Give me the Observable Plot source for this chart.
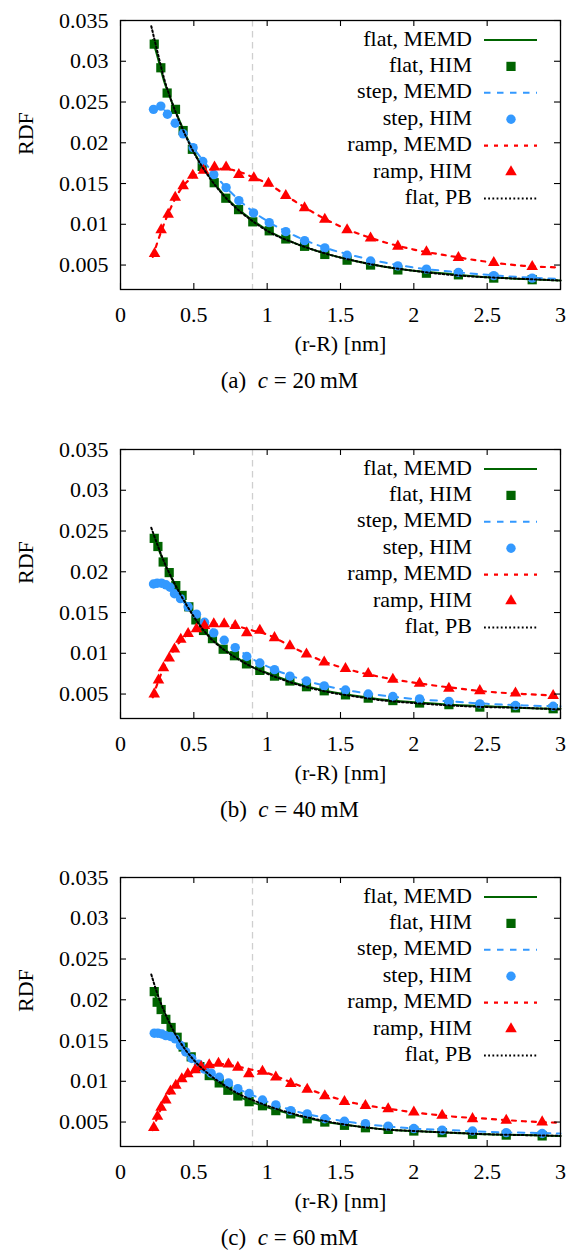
<!DOCTYPE html>
<html><head><meta charset="utf-8">
<script src="https://cdn.jsdelivr.net/npm/d3@7"></script>
<script src="https://cdn.jsdelivr.net/npm/@observablehq/plot@0.6"></script>
<style>
body{margin:0;background:#fff;width:579px;height:1252px;overflow:hidden;font-family:"Liberation Serif",serif;position:relative;}
.panel{position:absolute;left:0;width:579px;}
.cap{position:absolute;left:0;width:579px;text-align:center;font-size:23px;line-height:26px;color:#000;}
</style></head><body>
<script>
// ---- ticks & labels ----
const xTicks = [0, 0.5, 1, 1.5, 2, 2.5, 3];
const xTickLabels = ["0", "0.5", "1", "1.5", "2", "2.5", "3"];
const yTicks = [0.005, 0.01, 0.015, 0.02, 0.025, 0.03, 0.035];
const yTickLabels = ["0.005", "0.01", "0.015", "0.02", "0.025", "0.03", "0.035"];
const xLabel = "(r-R) [nm]";
const yLabel = "RDF";
const seriesNames = ["flat, MEMD", "flat, HIM", "step, MEMD", "step, HIM", "ramp, MEMD", "ramp, HIM", "flat, PB"];
const panelTags = ["(a)", "(b)", "(c)"];
const concentrations = ["20", "40", "60"];
const markerX = [0.9];

// shared x grids for the continuous curves
const memdX = [0.22, 0.25, 0.3, 0.35, 0.4, 0.5, 0.6, 0.7, 0.8, 0.9, 1.0, 1.2, 1.4, 1.6, 1.8, 2.0, 2.25, 2.5, 2.75, 3.0];
const pbX   = [0.21, 0.25, 0.3, 0.35, 0.4, 0.5, 0.6, 0.7, 0.8, 0.9, 1.0, 1.2, 1.4, 1.6, 1.8, 2.0, 2.25, 2.5, 2.75, 3.0];

// ---- panel (a) c = 20 mM ----
const aFlatHimX = [0.23, 0.275, 0.318, 0.375, 0.427, 0.49, 0.557, 0.639, 0.718, 0.805, 0.902, 1.014, 1.127, 1.255, 1.393, 1.545, 1.705, 1.891, 2.086, 2.304, 2.545, 2.807];
const aFlatHimY = [0.0321, 0.0292, 0.0261, 0.0241, 0.0215, 0.0192, 0.0171, 0.0151, 0.0132, 0.0118, 0.0103, 0.0092, 0.0082, 0.0073, 0.0063, 0.0056, 0.0050, 0.0044, 0.0040, 0.0038, 0.0034, 0.0032];
const aStepHimX = [0.225, 0.275, 0.32, 0.373, 0.427, 0.495, 0.561, 0.636, 0.72, 0.807, 0.907, 1.014, 1.127, 1.255, 1.393, 1.545, 1.705, 1.891, 2.086, 2.304, 2.545, 2.807];
const aStepHimY = [0.0241, 0.0245, 0.0235, 0.0224, 0.0211, 0.0194, 0.0177, 0.0161, 0.0145, 0.0129, 0.0114, 0.0102, 0.0091, 0.0080, 0.0071, 0.0062, 0.0055, 0.0049, 0.0045, 0.0041, 0.0037, 0.0034];
const aRampHimX = [0.232, 0.277, 0.325, 0.373, 0.427, 0.493, 0.566, 0.641, 0.72, 0.807, 0.909, 1.009, 1.127, 1.255, 1.393, 1.545, 1.705, 1.891, 2.086, 2.304, 2.545, 2.807];
const aRampHimY = [0.0064, 0.0093, 0.0112, 0.0133, 0.0147, 0.0160, 0.0166, 0.0170, 0.0170, 0.0161, 0.0157, 0.0150, 0.0135, 0.0120, 0.0106, 0.0093, 0.0083, 0.0073, 0.0066, 0.0059, 0.0053, 0.0048];
const aFlatMemd = [0.0326, 0.0307, 0.0274, 0.0250, 0.0228, 0.0189, 0.0160, 0.0137, 0.0119, 0.0105, 0.0093, 0.0076, 0.0064, 0.0055, 0.0048, 0.0043, 0.0039, 0.0035, 0.0033, 0.0031];
const aStepMemd = [0.0240, 0.0243, 0.0240, 0.0229, 0.0218, 0.0193, 0.0170, 0.0149, 0.0131, 0.0116, 0.0104, 0.0085, 0.0071, 0.0061, 0.0053, 0.0047, 0.0042, 0.0038, 0.0035, 0.0033];
const aRampMemd = [0.0060, 0.0077, 0.0102, 0.0123, 0.0140, 0.0159, 0.0167, 0.0168, 0.0165, 0.0158, 0.0150, 0.0127, 0.0106, 0.0090, 0.0078, 0.0069, 0.0061, 0.0054, 0.0049, 0.0047];
const aFlatPb   = [0.0343, 0.0313, 0.0277, 0.0250, 0.0227, 0.0188, 0.0159, 0.0136, 0.0118, 0.0104, 0.0092, 0.0076, 0.0064, 0.0055, 0.0048, 0.0043, 0.0038, 0.0035, 0.0033, 0.0031];

// ---- panel (b) c = 40 mM ----
const bFlatHimX = [0.23, 0.255, 0.291, 0.332, 0.377, 0.42, 0.466, 0.514, 0.566, 0.627, 0.7, 0.777, 0.859, 0.95, 1.05, 1.155, 1.268, 1.389, 1.534, 1.689, 1.857, 2.039, 2.239, 2.45, 2.693, 2.95];
const bFlatHimY = [0.0241, 0.0231, 0.0212, 0.0199, 0.0183, 0.0171, 0.0157, 0.0141, 0.0128, 0.0118, 0.0105, 0.0097, 0.0087, 0.0079, 0.0072, 0.0066, 0.0059, 0.0054, 0.0049, 0.0045, 0.0042, 0.0039, 0.0037, 0.0034, 0.0033, 0.0032];
const bStepHimX = [0.225, 0.25, 0.28, 0.31, 0.338, 0.368, 0.409, 0.461, 0.518, 0.573, 0.636, 0.707, 0.782, 0.861, 0.95, 1.05, 1.155, 1.268, 1.389, 1.534, 1.689, 1.857, 2.039, 2.239, 2.45, 2.693, 2.95];
const bStepHimY = [0.0185, 0.0186, 0.0186, 0.0184, 0.0181, 0.0173, 0.0167, 0.0157, 0.0148, 0.0138, 0.0125, 0.0116, 0.0107, 0.0096, 0.0088, 0.0080, 0.0072, 0.0066, 0.0060, 0.0055, 0.0050, 0.0047, 0.0044, 0.0041, 0.0038, 0.0036, 0.0035];
const bRampHimX = [0.23, 0.259, 0.293, 0.332, 0.368, 0.411, 0.461, 0.518, 0.573, 0.636, 0.707, 0.782, 0.861, 0.95, 1.05, 1.155, 1.268, 1.389, 1.534, 1.689, 1.857, 2.039, 2.239, 2.45, 2.693, 2.95];
const bRampHimY = [0.0050, 0.0067, 0.0082, 0.0094, 0.0105, 0.0117, 0.0124, 0.0130, 0.0134, 0.0136, 0.0136, 0.0134, 0.0125, 0.0128, 0.0119, 0.0109, 0.0099, 0.0089, 0.0081, 0.0075, 0.0068, 0.0063, 0.0057, 0.0054, 0.0051, 0.0048];
const bFlatMemd = [0.0245, 0.0232, 0.0210, 0.0192, 0.0176, 0.0146, 0.0122, 0.0106, 0.0094, 0.0083, 0.0076, 0.0063, 0.0054, 0.0048, 0.0043, 0.0040, 0.0037, 0.0035, 0.0033, 0.0032];
const bStepMemd = [0.0185, 0.0186, 0.0185, 0.0178, 0.0168, 0.0150, 0.0134, 0.0117, 0.0105, 0.0093, 0.0084, 0.0070, 0.0060, 0.0053, 0.0048, 0.0044, 0.0041, 0.0038, 0.0036, 0.0035];
const bRampMemd = [0.0046, 0.0062, 0.0084, 0.0100, 0.0113, 0.0128, 0.0135, 0.0136, 0.0133, 0.0128, 0.0123, 0.0105, 0.0089, 0.0078, 0.0070, 0.0064, 0.0058, 0.0053, 0.0050, 0.0048];
const bFlatPb   = [0.0254, 0.0234, 0.0211, 0.0192, 0.0175, 0.0145, 0.0121, 0.0105, 0.0093, 0.0083, 0.0075, 0.0062, 0.0053, 0.0047, 0.0042, 0.0039, 0.0036, 0.0034, 0.0033, 0.0031];

// ---- panel (c) c = 60 mM ----
const cFlatHimX = [0.23, 0.25, 0.277, 0.309, 0.345, 0.386, 0.427, 0.482, 0.541, 0.605, 0.673, 0.732, 0.8, 0.877, 0.968, 1.059, 1.161, 1.273, 1.393, 1.527, 1.67, 1.825, 2.0, 2.193, 2.4, 2.63, 2.875];
const cFlatHimY = [0.0210, 0.0197, 0.0188, 0.0176, 0.0166, 0.0154, 0.0142, 0.0130, 0.0118, 0.0107, 0.0098, 0.0089, 0.0082, 0.0075, 0.0070, 0.0064, 0.0060, 0.0054, 0.0050, 0.0046, 0.0043, 0.0041, 0.0039, 0.0037, 0.0035, 0.0034, 0.0033];
const cStepHimX = [0.23, 0.255, 0.282, 0.309, 0.341, 0.373, 0.409, 0.445, 0.486, 0.532, 0.573, 0.618, 0.673, 0.736, 0.8, 0.877, 0.968, 1.059, 1.161, 1.273, 1.393, 1.527, 1.67, 1.825, 2.0, 2.193, 2.4, 2.63, 2.875];
const cStepHimY = [0.0159, 0.0159, 0.0158, 0.0156, 0.0155, 0.0152, 0.0144, 0.0136, 0.0128, 0.0121, 0.0115, 0.0110, 0.0105, 0.0098, 0.0091, 0.0085, 0.0077, 0.0071, 0.0064, 0.0060, 0.0054, 0.0051, 0.0048, 0.0045, 0.0042, 0.0040, 0.0039, 0.0037, 0.0036];
const cRampHimX = [0.227, 0.252, 0.277, 0.309, 0.341, 0.377, 0.418, 0.459, 0.509, 0.55, 0.605, 0.668, 0.736, 0.8, 0.875, 0.968, 1.059, 1.161, 1.273, 1.393, 1.527, 1.67, 1.825, 2.0, 2.193, 2.4, 2.63, 2.875];
const cRampHimY = [0.0043, 0.0057, 0.0068, 0.0077, 0.0088, 0.0095, 0.0103, 0.0109, 0.0114, 0.0118, 0.0120, 0.0122, 0.0121, 0.0117, 0.0109, 0.0112, 0.0105, 0.0097, 0.0090, 0.0082, 0.0075, 0.0070, 0.0066, 0.0062, 0.0058, 0.0054, 0.0052, 0.0050];
const cFlatMemd = [0.0213, 0.0199, 0.0179, 0.0164, 0.0150, 0.0126, 0.0108, 0.0094, 0.0082, 0.0074, 0.0068, 0.0058, 0.0050, 0.0045, 0.0041, 0.0039, 0.0037, 0.0035, 0.0034, 0.0033];
const cStepMemd = [0.0159, 0.0159, 0.0157, 0.0154, 0.0147, 0.0126, 0.0112, 0.0102, 0.0091, 0.0083, 0.0075, 0.0063, 0.0055, 0.0049, 0.0045, 0.0042, 0.0040, 0.0038, 0.0037, 0.0036];
const cRampMemd = [0.0040, 0.0055, 0.0075, 0.0089, 0.0099, 0.0112, 0.0119, 0.0121, 0.0118, 0.0114, 0.0110, 0.0096, 0.0083, 0.0073, 0.0067, 0.0062, 0.0057, 0.0054, 0.0051, 0.0049];
const cFlatPb   = [0.0231, 0.0208, 0.0185, 0.0166, 0.0150, 0.0126, 0.0109, 0.0096, 0.0085, 0.0077, 0.0070, 0.0059, 0.0051, 0.0045, 0.0041, 0.0039, 0.0037, 0.0035, 0.0034, 0.0033];

// ---- build ----
const green = "#006400", blue = "#3399ff", red = "#ff0000";
const styles = [
  {kind: "line", stroke: green, dash: null, width: 2},
  {kind: "dot", fill: green, symbol: "square", r: 5.2},
  {kind: "line", stroke: blue, dash: "6.5,6.5", width: 2},
  {kind: "dot", fill: blue, symbol: "circle", r: 4.7},
  {kind: "line", stroke: red, dash: "4,6", width: 2.2},
  {kind: "dot", fill: red, symbol: "triangle", r: 4.3},
  {kind: "line", stroke: "#000", dash: "1.8,2.4", width: 2}
];
const xFmtMap = new Map(xTicks.map((t, i) => [t, xTickLabels[i]]));
const yFmtMap = new Map(yTicks.map((t, i) => [t, yTickLabels[i]]));
const pts = (xs, ys) => xs.map((x, i) => ({x, y: ys[i]}));

const panels = [
  {flatHim: pts(aFlatHimX, aFlatHimY), stepHim: pts(aStepHimX, aStepHimY), rampHim: pts(aRampHimX, aRampHimY),
   flatMemd: pts(memdX, aFlatMemd), stepMemd: pts(memdX, aStepMemd), rampMemd: pts(memdX, aRampMemd), flatPb: pts(pbX, aFlatPb)},
  {flatHim: pts(bFlatHimX, bFlatHimY), stepHim: pts(bStepHimX, bStepHimY), rampHim: pts(bRampHimX, bRampHimY),
   flatMemd: pts(memdX, bFlatMemd), stepMemd: pts(memdX, bStepMemd), rampMemd: pts(memdX, bRampMemd), flatPb: pts(pbX, bFlatPb)},
  {flatHim: pts(cFlatHimX, cFlatHimY), stepHim: pts(cStepHimX, cStepHimY), rampHim: pts(cRampHimX, cRampHimY),
   flatMemd: pts(memdX, cFlatMemd), stepMemd: pts(memdX, cStepMemd), rampMemd: pts(memdX, cRampMemd), flatPb: pts(pbX, cFlatPb)}
];

const W = 579, H = 360, mT = 20, mB = 71, mL = 120, mR = 19;
const frameW = W - mL - mR, frameH = H - mT - mB;
const tickLen = 6;
const fontFam = '"Liberation Serif", "Times New Roman", serif';

function lineMark(data, s) {
  return Plot.line(data, {x: "x", y: "y", stroke: s.stroke, strokeWidth: s.width, strokeDasharray: s.dash, curve: "monotone-x"});
}
function dotMark(data, s) {
  return Plot.dot(data, {x: "x", y: "y", symbol: s.symbol, r: s.r, fill: s.fill, stroke: "none"});
}

function makePanel(p) {
  const plot = Plot.plot({
    width: W, height: H, marginTop: mT, marginBottom: mB, marginLeft: mL, marginRight: mR,
    x: {domain: [0, 3]},
    y: {domain: [0.002, 0.035]},
    style: {fontSize: "22px", fontFamily: fontFam, color: "#000", background: "#fff", overflow: "visible"},
    marks: [
      Plot.ruleX(markerX, {x: d => d, stroke: "#cfcfcf", strokeWidth: 1.3, strokeDasharray: "6.5,4.5"}),
      lineMark(p.flatMemd, styles[0]),
      dotMark(p.flatHim, styles[1]),
      lineMark(p.stepMemd, styles[2]),
      dotMark(p.stepHim, styles[3]),
      lineMark(p.rampMemd, styles[4]),
      dotMark(p.rampHim, styles[5]),
      lineMark(p.flatPb, styles[6]),
      Plot.frame({stroke: "#000", strokeWidth: 1.3}),
      Plot.tickY(yTicks, {y: d => d, insetRight: frameW - tickLen, stroke: "#000", strokeWidth: 1.1}),
      Plot.tickY(yTicks, {y: d => d, insetLeft: frameW - tickLen, stroke: "#000", strokeWidth: 1.1}),
      Plot.tickX(xTicks, {x: d => d, insetBottom: frameH - tickLen, stroke: "#000", strokeWidth: 1.1}),
      Plot.tickX(xTicks, {x: d => d, insetTop: frameH - tickLen, stroke: "#000", strokeWidth: 1.1}),
      Plot.axisY({ticks: yTicks, tickSize: 0, tickPadding: 12, tickFormat: d => yFmtMap.get(d), label: null}),
      Plot.axisX({ticks: xTicks, tickSize: 0, tickPadding: 17, tickFormat: d => xFmtMap.get(d), label: null}),
      Plot.text([xLabel], {frameAnchor: "bottom", dy: 61, lineAnchor: "bottom", fill: "#000"}),
      Plot.text([yLabel], {frameAnchor: "left", dx: -95, rotate: -90, lineAnchor: "middle", fill: "#000"})
    ]
  });
  // key (legend) inside the frame, top-right
  const svg = d3.select(plot);
  const g = svg.append("g").attr("font-family", fontFam).attr("font-size", 22);
  const textRight = 472, keyX1 = 484, keyX2 = 537, keyMid = 511;
  seriesNames.forEach((name, i) => {
    const ry = mT + 20 + 26.4 * i;
    const s = styles[i];
    g.append("text").attr("x", textRight).attr("y", ry + 5.5).attr("text-anchor", "end").attr("fill", "#000").text(name);
    if (s.kind === "line") {
      g.append("line").attr("x1", keyX1).attr("x2", keyX2).attr("y1", ry).attr("y2", ry)
        .attr("stroke", s.stroke).attr("stroke-width", s.width).attr("stroke-dasharray", s.dash);
    } else {
      const sym = s.symbol === "square" ? d3.symbolSquare : s.symbol === "circle" ? d3.symbolCircle : d3.symbolTriangle;
      g.append("path").attr("transform", `translate(${keyMid},${ry})`)
        .attr("d", d3.symbol(sym, Math.PI * s.r * s.r)()).attr("fill", s.fill);
    }
  });
  return plot;
}

const blockH = 428.65;
panels.forEach((p, i) => {
  const div = document.createElement("div");
  div.className = "panel";
  div.style.top = (i * blockH) + "px";
  div.appendChild(makePanel(p));
  document.body.appendChild(div);
  const cap = document.createElement("div");
  cap.className = "cap";
  cap.style.top = (i * blockH + 368) + "px";
  cap.innerHTML = `${panelTags[i]}&nbsp; <i>c</i> = ${concentrations[i]}&thinsp;mM`;
  document.body.appendChild(cap);
});
</script>
</body></html>
